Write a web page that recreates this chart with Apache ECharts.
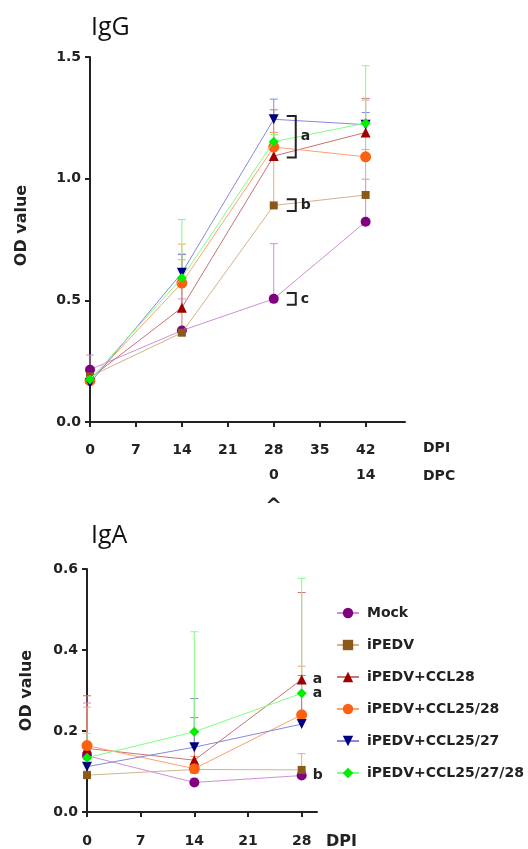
<!DOCTYPE html>
<html>
<head>
<meta charset="utf-8">
<title>IgG / IgA OD value</title>
<script src="https://cdn.jsdelivr.net/npm/echarts@6/dist/echarts.min.js"></script>
<style>
    html, body { margin: 0; padding: 0; background: #fff; }
    #main { width: 528px; height: 849px; }
</style>
</head>
<body>
<div id="main"></div>
<script>
    // groups
    var groups = ['Mock', 'iPEDV', 'iPEDV+CCL28', 'iPEDV+CCL25/28', 'iPEDV+CCL25/27', 'iPEDV+CCL25/27/28'];

    // IgG, days post immunisation
    var dpiG = [0, 14, 28, 42];
    var igG_mock = [0.215, 0.376, 0.506, 0.823];
    var igG_ipedv = [0.187, 0.367, 0.89, 0.933];
    var igG_ccl28 = [0.18, 0.47, 1.093, 1.19];
    var igG_ccl2528 = [0.17, 0.571, 1.13, 1.09];
    var igG_ccl2527 = [0.16, 0.613, 1.244, 1.222];
    var igG_ccl252728 = [0.175, 0.592, 1.152, 1.228];
    // upper error bars
    var igGErr_mock = [0.06, 0.13, 0.227, 0.175];
    var igGErr_ipedv = [0.02, 0.3, 0.3, 0.39];
    var igGErr_ccl28 = [0.02, 0.22, 0.19, 0.14];
    var igGErr_ccl2528 = [0.02, 0.16, 0.06, 0.03];
    var igGErr_ccl2527 = [0.02, 0.075, 0.083, 0.05];
    var igGErr_ccl252728 = [0.02, 0.24, 0.03, 0.236];

    // IgA
    var dpiA = [0, 14, 28];
    var igA_mock = [0.139, 0.073, 0.09];
    var igA_ipedv = [0.091, 0.105, 0.104];
    var igA_ccl28 = [0.157, 0.128, 0.327];
    var igA_ccl2528 = [0.164, 0.107, 0.24];
    var igA_ccl2527 = [0.112, 0.16, 0.217];
    var igA_ccl252728 = [0.134, 0.198, 0.293];
    var igAErr_mock = [0.13, 0.01, 0.01];
    var igAErr_ipedv = [0.01, 0.01, 0.04];
    var igAErr_ccl28 = [0.13, 0.105, 0.215];
    var igAErr_ccl2528 = [0.095, 0.03, 0.12];
    var igAErr_ccl2527 = [0.01, 0.12, 0.12];
    var igAErr_ccl252728 = [0.06, 0.247, 0.284];
    // letters next to the day 28 IgA points
    var igALetters = ['b', '', 'a', '', '', 'a'];

    // brackets on IgG at day 28
    var bracketDay = 28;
    var bracketLo = [1.087, 0.867, 0.482];
    var bracketHi = [1.258, 0.915, 0.53];
    var bracketText = ['a', 'b', 'c'];

    // tick labels
    var ticksG = [0, 7, 14, 21, 28, 35, 42];
    var ticksA = [0, 7, 14, 21, 28];
    var dpcLabels = { 28: '0', 42: '14' };

    var markColor = ['#800080', '#8b5a1b', '#a00000', '#ff6010', '#000080', '#00ee00'];
    var lineColor = ['#cf90d6', '#d2b48c', '#c87474', '#ffa070', '#8888dd', '#80ff80'];
    var symbols = ['circle', 'rect', 'triangle', 'circle', 'triangle', 'diamond'];
    var symbolRot = [0, 0, 0, 0, 180, 0];
    var symbolSz = [10, 8, 10, 11, 10, 10];

    var valsG = [igG_mock, igG_ipedv, igG_ccl28, igG_ccl2528, igG_ccl2527, igG_ccl252728];
    var errsG = [igGErr_mock, igGErr_ipedv, igGErr_ccl28, igGErr_ccl2528, igGErr_ccl2527, igGErr_ccl252728];
    var valsA = [igA_mock, igA_ipedv, igA_ccl28, igA_ccl2528, igA_ccl2527, igA_ccl252728];
    var errsA = [igAErr_mock, igAErr_ipedv, igAErr_ccl28, igAErr_ccl2528, igAErr_ccl2527, igAErr_ccl252728];

    var FONT = 'DejaVu Sans';
    var INK = '#222';

    function lineSeries(gi, days, vals, withLetters) {
        var out = [];
        for (var s = 0; s < vals.length; s++) {
            var data = [];
            for (var i = 0; i < days.length; i++) {
                var item = { value: [days[i], vals[s][i]] };
                if (withLetters && i == days.length - 1 && igALetters[s]) {
                    item.label = {
                        show: true, position: 'right', distance: 6, formatter: igALetters[s],
                        color: INK, fontFamily: FONT, fontWeight: 'bold', fontSize: 14
                    };
                }
                data.push(item);
            }
            out.push({
                type: 'line', name: groups[s], xAxisIndex: gi, yAxisIndex: gi,
                symbol: symbols[s], symbolSize: symbolSz[s], symbolRotate: symbolRot[s],
                itemStyle: { color: markColor[s], borderWidth: 0 },
                lineStyle: { color: lineColor[s], width: 1 },
                z: 3 + s, data: data
            });
        }
        return out;
    }

    // error bars, upper side only
    function errSeries(gi, days, vals, errs) {
        var data = [];
        for (var s = 0; s < vals.length; s++) {
            for (var i = 0; i < days.length; i++) {
                data.push([days[i], vals[s][i], vals[s][i] + errs[s][i], s]);
            }
        }
        return {
            type: 'custom', xAxisIndex: gi, yAxisIndex: gi, z: 1, silent: true,
            encode: { x: 0, y: [1, 2] },
            renderItem: function (params, api) {
                var p0 = api.coord([api.value(0), api.value(1)]);
                var p1 = api.coord([api.value(0), api.value(2)]);
                var c = lineColor[api.value(3)];
                return {
                    type: 'group', children: [
                        { type: 'line', shape: { x1: p0[0], y1: p0[1], x2: p1[0], y2: p1[1] }, style: { stroke: c, lineWidth: 1 } },
                        { type: 'line', shape: { x1: p1[0] - 4, y1: p1[1], x2: p1[0] + 4, y2: p1[1] }, style: { stroke: c, lineWidth: 1 } }
                    ]
                };
            },
            data: data
        };
    }

    var bracketData = [];
    for (var b = 0; b < bracketText.length; b++) {
        bracketData.push([bracketDay, bracketLo[b], bracketHi[b], b]);
    }

    var axisLineStyle = { color: INK, width: 2 };
    var labelStyle = { color: INK, fontFamily: FONT, fontWeight: 'bold', fontSize: 14 };

    var myChart = echarts.init(document.getElementById('main'), null, { renderer: 'canvas' });
    var option = {
        animation: false,
        backgroundColor: '#fff',
        title: [
            { text: 'IgG', left: 91, top: 15, padding: 0, textStyle: { fontFamily: 'Open Sans', fontSize: 25, fontWeight: 'normal', color: '#111' } },
            { text: 'IgA', left: 91, top: 523, padding: 0, textStyle: { fontFamily: 'Open Sans', fontSize: 25, fontWeight: 'normal', color: '#111' } }
        ],
        legend: {
            data: groups, orient: 'vertical', left: 331, top: 601,
            itemWidth: 22, itemHeight: 13, itemGap: 18, selectedMode: false,
            textStyle: { color: INK, fontFamily: FONT, fontWeight: 'bold', fontSize: 14, padding: [0, 0, 0, 3] }
        },
        grid: [
            { left: 90, top: 57, width: 315, height: 365, outerBoundsMode: 'none', containLabel: false },
            { left: 87, top: 569, width: 230, height: 243, outerBoundsMode: 'none', containLabel: false }
        ],
        xAxis: [
            {
                gridIndex: 0, type: 'value', min: 0, max: 48,
                axisLine: { onZero: false, lineStyle: axisLineStyle },
                axisTick: { customValues: ticksG, length: 5, lineStyle: axisLineStyle },
                axisLabel: Object.assign({}, labelStyle, {
                    customValues: ticksG, margin: 16, lineHeight: 25,
                    formatter: function (v) {
                        var t = String(v);
                        if (dpcLabels[v] !== undefined) t += '\n' + dpcLabels[v];
                        if (v == 28) t += '\n{c|^}';
                        return t;
                    },
                    rich: { c: { fontFamily: FONT, fontWeight: 'bold', fontSize: 20, lineHeight: 25, color: INK, padding: [12, 0, 0, 0] } }
                }),
                splitLine: { show: false },
                name: 'DPI\nDPC', nameLocation: 'end', nameGap: 18,
                nameTextStyle: Object.assign({}, labelStyle, { lineHeight: 28, verticalAlign: 'top', align: 'left', padding: [12, 0, 0, 0] })
            },
            {
                gridIndex: 1, type: 'value', min: 0, max: 30,
                axisLine: { onZero: false, lineStyle: axisLineStyle },
                axisTick: { customValues: ticksA, length: 5, lineStyle: axisLineStyle },
                axisLabel: Object.assign({}, labelStyle, { customValues: ticksA, margin: 17, lineHeight: 25 }),
                splitLine: { show: false },
                name: 'DPI', nameLocation: 'end', nameGap: 9,
                nameTextStyle: Object.assign({}, labelStyle, { fontSize: 16, lineHeight: 28, verticalAlign: 'top', align: 'left', padding: [16, 0, 0, 0] })
            }
        ],
        yAxis: [
            {
                gridIndex: 0, type: 'value', min: 0, max: 1.5, interval: 0.5,
                axisLine: { show: true, lineStyle: axisLineStyle },
                axisTick: { show: true, length: 5, lineStyle: axisLineStyle },
                axisLabel: Object.assign({}, labelStyle, { margin: 9, formatter: function (v) { return v.toFixed(1); } }),
                splitLine: { show: false },
                name: 'OD value', nameLocation: 'middle', nameGap: 60,
                nameTextStyle: Object.assign({}, labelStyle, { fontSize: 16, padding: [0, 0, 0, 28] })
            },
            {
                gridIndex: 1, type: 'value', min: 0, max: 0.6, interval: 0.2,
                axisLine: { show: true, lineStyle: axisLineStyle },
                axisTick: { show: true, length: 5, lineStyle: axisLineStyle },
                axisLabel: Object.assign({}, labelStyle, { margin: 9, formatter: function (v) { return v.toFixed(1); } }),
                splitLine: { show: false },
                name: 'OD value', nameLocation: 'middle', nameGap: 52,
                nameTextStyle: Object.assign({}, labelStyle, { fontSize: 16 })
            }
        ],
        series: []
    };

    option.series = option.series
        .concat(lineSeries(0, dpiG, valsG, false))
        .concat(lineSeries(1, dpiA, valsA, true));
    option.series.push(errSeries(0, dpiG, valsG, errsG));
    option.series.push(errSeries(1, dpiA, valsA, errsA));
    // significance brackets on IgG
    option.series.push({
        type: 'custom', xAxisIndex: 0, yAxisIndex: 0, z: 10, silent: true,
        encode: { x: 0, y: [1, 2] },
        renderItem: function (params, api) {
            var top = api.coord([api.value(0), api.value(2)]);
            var bot = api.coord([api.value(0), api.value(1)]);
            var x0 = top[0] + 13, x1 = top[0] + 22;
            return {
                type: 'group', children: [
                    { type: 'polyline', shape: { points: [[x0, top[1]], [x1, top[1]], [x1, bot[1]], [x0, bot[1]]] }, style: { stroke: INK, lineWidth: 2, fill: null } },
                    { type: 'text', x: x1 + 5, y: (top[1] + bot[1]) / 2, style: { text: bracketText[api.value(3)], fill: INK, font: 'bold 14px "DejaVu Sans"', align: 'left', verticalAlign: 'middle' } }
                ]
            };
        },
        data: bracketData
    });

    myChart.setOption(option);
</script>
</body>
</html>
